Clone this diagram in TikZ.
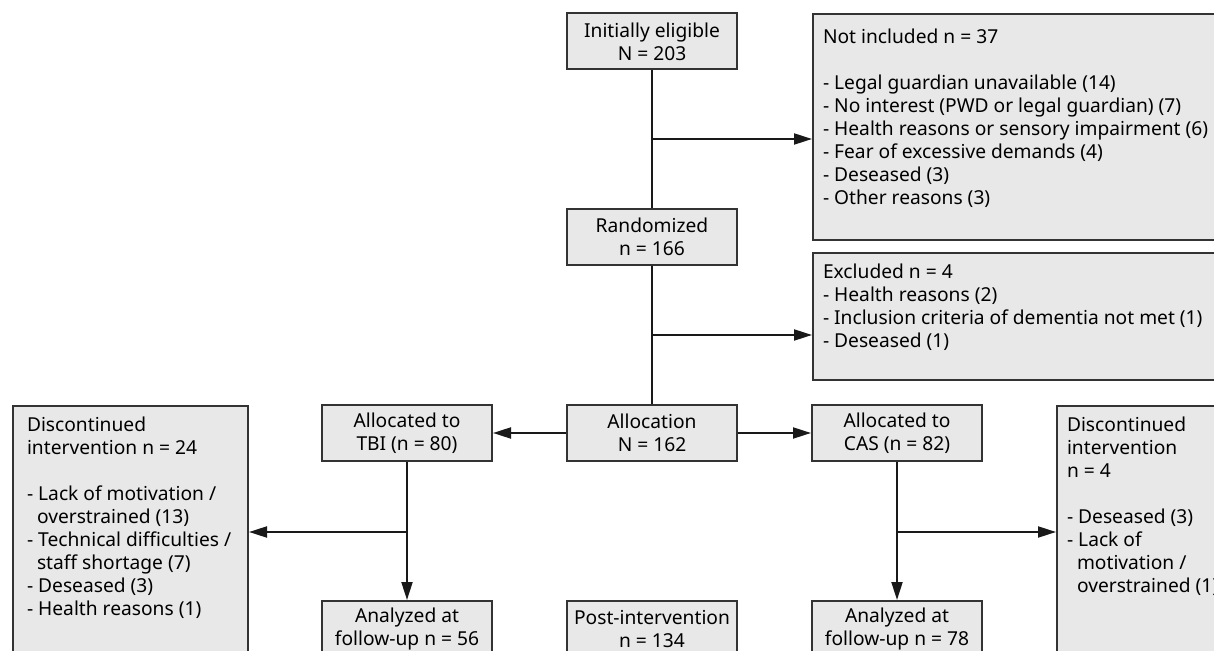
\documentclass[tikz,border=0pt]{standalone}
\usepackage{fontspec}
\setmainfont{Noto Sans}
\usepackage{xcolor}
\usetikzlibrary{arrows.meta}

\definecolor{boxfill}{HTML}{E8E8E8}
\definecolor{boxline}{HTML}{333333}

\tikzset{
  stagebox/.style={draw=boxline, fill=boxfill, line width=1pt, minimum width=85pt,
    minimum height=28pt, align=center, inner sep=1pt,
    font=\fontsize{9.6pt}{11.5pt}\selectfont},
  listbox/.style={draw=boxline, fill=boxfill, line width=1pt, anchor=north west,
    inner xsep=5pt, inner ysep=5.5pt, font=\fontsize{9.6pt}{11.5pt}\selectfont},
  flow/.style={line width=1pt, black!90},
  flowarrow/.style={flow, -{Triangle[length=9pt,width=5.5pt]}}
}

\begin{document}
\begin{tikzpicture}[x=0.5pt, y=-0.5pt]

\useasboundingbox (0,0) rectangle (1214,651);
\clip (0,0) rectangle (1214,651);

\node[stagebox] (init) at (652,41.5) {Initially eligible\\N = 203};
\node[stagebox] (rand) at (652,237) {Randomized\\n = 166};
\node[stagebox] (alloc) at (652,433) {Allocation\\N = 162};
\node[stagebox] (tbi) at (407,433) {Allocated to\\TBI (n = 80)};
\node[stagebox] (cas) at (897,433) {Allocated to\\CAS (n = 82)};
\node[stagebox] (ana1) at (407,629) {Analyzed at\\follow-up n = 56};
\node[stagebox] (post) at (652,629) {Post-intervention\\n = 134};
\node[stagebox] (ana2) at (897,629) {Analyzed at\\follow-up n = 78};

\node[listbox, inner ysep=7.5pt] (notinc) at (812,13) {\parbox[t][98pt][t]{200pt}{%
  Not included n = 37\\[11.5pt]
  - Legal guardian unavailable (14)\\
  - No interest (PWD or legal guardian) (7)\\
  - Health reasons or sensory impairment (6)\\
  - Fear of excessive demands (4)\\
  - Deseased (3)\\
  - Other reasons (3)}};
\node[listbox] (excl) at (812,252) {\parbox[t][52.5pt][t]{200pt}{%
  Excluded n = 4\\
  - Health reasons (2)\\
  - Inclusion criteria of dementia not met (1)\\
  - Deseased (1)}};
\node[listbox, inner xsep=7pt] (disc1) at (12,405) {\parbox[t][121.5pt][t]{103.5pt}{%
  Discontinued\\
  intervention n = 24\\[11.5pt]
  - Lack of motivation /\\
  \hspace*{5pt}overstrained (13)\\
  - Technical difficulties /\\
  \hspace*{5pt}staff shortage (7)\\
  - Deseased (3)\\
  - Health reasons (1)}};
\node[listbox] (disc2) at (1056,405) {\parbox[t][121.5pt][t]{110pt}{%
  Discontinued\\
  intervention\\
  n = 4\\[11.5pt]
  - Deseased (3)\\
  - Lack of\\
  \hspace*{5pt}motivation /\\
  \hspace*{5pt}overstrained (1)}};

\coordinate (b1) at (652,139);
\coordinate (b2) at (652,335);
\coordinate (b3) at (407,532);
\coordinate (b4) at (897,532);

\draw[flow] (init) -- (rand);
\draw[flow] (rand) -- (alloc);
\draw[flowarrow] (b1) -- (b1 -| notinc.west);
\draw[flowarrow] (b2) -- (b2 -| excl.west);
\draw[flowarrow] (alloc) -- (tbi);
\draw[flowarrow] (alloc) -- (cas);
\draw[flowarrow] (tbi) -- (ana1);
\draw[flowarrow] (cas) -- (ana2);
\draw[flowarrow] (b3) -- (b3 -| disc1.east);
\draw[flowarrow] (b4) -- (b4 -| disc2.west);

\end{tikzpicture}
\end{document}
